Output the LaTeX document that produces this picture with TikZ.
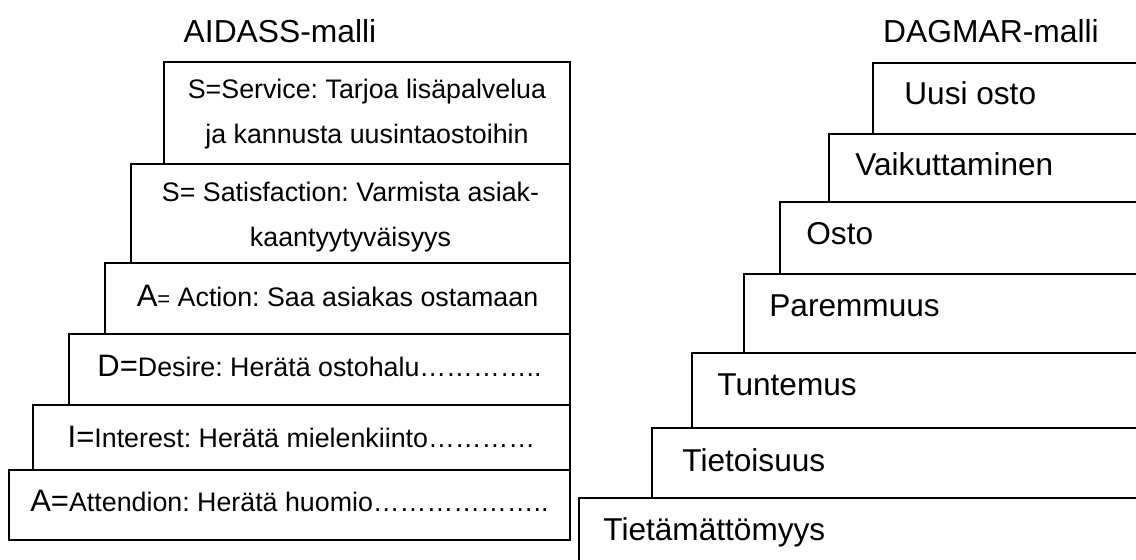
\documentclass[tikz,border=0pt]{standalone}
\usepackage{fontspec}
\setmainfont{Liberation Sans}
\frenchspacing
\tikzset{
  box/.style={draw=black, line width=1.1pt},
  txt/.style={anchor=base, inner sep=0pt, font=\fontsize{13.4}{15}\selectfont},
  dtxt/.style={anchor=base west, inner sep=0pt, font=\fontsize{15.8}{18}\selectfont},
  ttl/.style={anchor=base, inner sep=0pt, font=\fontsize{15.9}{18}\selectfont},
}
\newcommand{\bigltr}[1]{{\fontsize{15.5}{18}\selectfont #1}}
\newcommand{\smallltr}[1]{{\fontsize{11}{13}\selectfont #1}}
\begin{document}
\begin{tikzpicture}[x=0.5pt,y=-0.5pt]
\useasboundingbox (0,0) rectangle (1136,559);
\clip (0,0) rectangle (1136,559);
% titles
\node[ttl] (t1) at (280,42) {AIDASS-malli};
\node[ttl] (t2) at (991,42) {DAGMAR-malli};
% AIDASS boxes
\draw[box] (164,62) rectangle (570,164);
\draw[box] (131,164) rectangle (570,263);
\draw[box] (105,263) rectangle (570,334);
\draw[box] (69,334) rectangle (570,405);
\draw[box] (33,405) rectangle (570,470);
\draw[box] (9,470) rectangle (570,540);
\node[txt] (sv1) at (367,98) {S=Service: Tarjoa lisäpalvelua};
\node[txt] (sv2) at (367,143) {ja kannusta uusintaostoihin};
\node[txt] (sf1) at (350.5,201) {S= Satisfaction: Varmista asiak-};
\node[txt] (sf2) at (350.5,246) {kaantyytyväisyys};
\node[txt] (ac) at (337.5,306) {\bigltr{A}\smallltr{=} Action: Saa asiakas ostamaan};
\node[txt] (de) at (319.5,376) {\bigltr{D=}Desire: Herätä ostohalu…………..};
\node[txt] (in) at (301.5,447) {\bigltr{I=}Interest: Herätä mielenkiinto…………};
\node[txt] (at) at (289.5,511) {\bigltr{A=}Attendion: Herätä huomio………………..};
% DAGMAR boxes
\draw[box] (873,63) rectangle (1160,134);
\draw[box] (829,134) rectangle (1160,202);
\draw[box] (780,202) rectangle (1160,274);
\draw[box] (744,274) rectangle (1160,353);
\draw[box] (692,353) rectangle (1160,428);
\draw[box] (652,428) rectangle (1160,498);
\draw[box] (579,498) rectangle (1160,590);
\node[dtxt] (d7) at (904,104) {Uusi osto};
\node[dtxt] (d6) at (855,175) {Vaikuttaminen};
\node[dtxt] (d5) at (806,244) {Osto};
\node[dtxt] (d4) at (769,316) {Paremmuus};
\node[dtxt] (d3) at (717,395) {Tuntemus};
\node[dtxt] (d2) at (682,471) {Tietoisuus};
\node[dtxt] (d1) at (603,540) {Tietämättömyys};
\end{tikzpicture}
\end{document}
